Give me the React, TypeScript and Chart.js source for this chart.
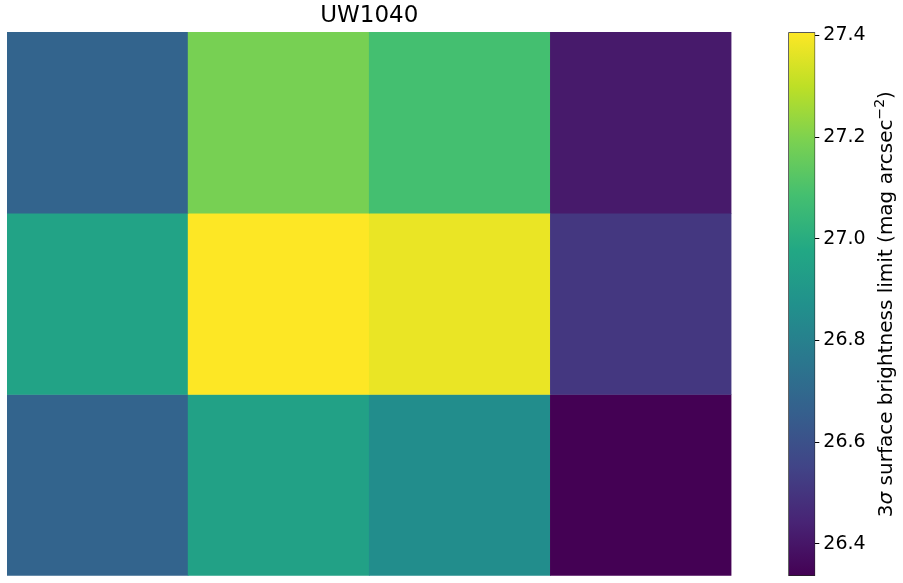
import React, { useEffect, useRef } from 'react';
import { Chart, registerables } from 'chart.js';

Chart.register(...registerables);

// ---- data ----
const columns = ['col1', 'col2', 'col3', 'col4'];
const rowNames = ['top', 'middle', 'bottom'];
const topRow = [26.68, 27.187, 27.085, 26.413];
const middleRow = [26.955, 27.406, 27.374, 26.508];
const bottomRow = [26.68, 26.946, 26.854, 26.337];
const cellRows = [topRow, middleRow, bottomRow];
const colorbarTicks = [26.4, 26.6, 26.8, 27.0, 27.2, 27.4];
const titleText = 'UW1040';
// colorbar label pieces: [text, style]
const colorbarLabelParts: [string, string][] = [
  ['3', 'normal'],
  ['σ', 'italic'],
  [' surface brightness limit (mag arcsec', 'normal'],
  ['−2', 'sup'],
  [')', 'normal'],
];

// viridis colormap anchors (0 .. 1 in steps of 0.1)
const viridisStops = [
  '#440154', '#482475', '#414487', '#355f8d', '#2a788e',
  '#21918c', '#22a884', '#44bf70', '#7ad151', '#bddf26', '#fde725',
];

const allValues = [...topRow, ...middleRow, ...bottomRow];
const vmin = Math.min(...allValues);
const vmax = Math.max(...allValues);

function hexToRgb(h: string) {
  const n = parseInt(h.slice(1), 16);
  return [(n >> 16) & 255, (n >> 8) & 255, n & 255];
}

function viridis(t: number) {
  const tt = Math.max(0, Math.min(1, t));
  const pos = tt * (viridisStops.length - 1);
  const i = Math.min(Math.floor(pos), viridisStops.length - 2);
  const f = pos - i;
  const a = hexToRgb(viridisStops[i]);
  const b = hexToRgb(viridisStops[i + 1]);
  const c = a.map((v, k) => Math.round(v + (b[k] - v) * f));
  return `rgb(${c[0]},${c[1]},${c[2]})`;
}

const FONT = 'DejaVu Sans';
const LABEL_SIZE = 20;

export default function App() {
  const heatRef = useRef<HTMLCanvasElement>(null);
  const barRef = useRef<HTMLCanvasElement>(null);

  useEffect(() => {
    const nRows = cellRows.length;
    const heat = new Chart(heatRef.current!, {
      type: 'bar',
      data: {
        labels: columns,
        datasets: cellRows.map((vals, r) => ({
          label: rowNames[r],
          data: vals.map(() => [nRows - 1 - r, nRows - r]) as any,
          backgroundColor: vals.map((v) => viridis((v - vmin) / (vmax - vmin))),
          borderWidth: 0,
          grouped: false,
          categoryPercentage: 1,
          barPercentage: 1,
        })),
      },
      options: {
        animation: false,
        responsive: false,
        layout: { padding: { left: 7, right: 8.5, top: 0, bottom: 7.3 } },
        scales: {
          x: { type: 'category', display: false },
          y: { type: 'linear', min: 0, max: nRows, display: false },
        },
        plugins: {
          legend: { display: false },
          tooltip: { enabled: false },
          title: {
            display: true,
            text: titleText,
            color: '#000',
            font: { family: FONT, size: 23, weight: 'normal' },
            padding: { top: 2.5, bottom: 1.9 },
          },
        },
      },
    });

    const fontFor = (style: string) => {
      if (style === 'italic') return `italic ${LABEL_SIZE}px "${FONT}"`;
      if (style === 'sup') return `${Math.round(LABEL_SIZE * 0.7)}px "${FONT}"`;
      return `${LABEL_SIZE}px "${FONT}"`;
    };

    const labelPlugin = {
      id: 'cbLabel',
      afterDraw(chart: any) {
        const { ctx, chartArea } = chart;
        ctx.save();
        ctx.translate(145, (chartArea.top + chartArea.bottom) / 2);
        ctx.rotate(-Math.PI / 2);
        ctx.fillStyle = '#000';
        ctx.textAlign = 'left';
        ctx.textBaseline = 'alphabetic';
        let total = 0;
        const widths = colorbarLabelParts.map(([t, s]) => {
          ctx.font = fontFor(s);
          const w = ctx.measureText(t).width;
          total += w;
          return w;
        });
        let x = -total / 2;
        const baseY = LABEL_SIZE * 0.36;
        colorbarLabelParts.forEach(([t, s], i) => {
          ctx.font = fontFor(s);
          const y = s === 'sup' ? baseY - LABEL_SIZE * 0.42 : baseY;
          ctx.fillText(t, x, y);
          x += widths[i];
        });
        ctx.restore();
      },
    };

    const bar = new Chart(barRef.current!, {
      type: 'bar',
      data: {
        labels: ['colorbar'],
        datasets: [
          {
            data: [[vmin, vmax]] as any,
            backgroundColor: (c: any) => {
              const area = c.chart.chartArea;
              if (!area) return 'rgba(0,0,0,0)';
              const g = c.chart.ctx.createLinearGradient(0, area.bottom, 0, area.top);
              viridisStops.forEach((col, i) => g.addColorStop(i / (viridisStops.length - 1), col));
              return g;
            },
            borderColor: '#222',
            borderWidth: 1,
            borderSkipped: false,
            categoryPercentage: 1,
            barPercentage: 1,
          },
        ],
      },
      options: {
        animation: false,
        responsive: false,
        layout: { padding: { left: 48.3, right: 0, top: 32.3, bottom: 7 } },
        scales: {
          x: { type: 'category', display: false },
          y: {
            position: 'right',
            min: vmin,
            max: vmax,
            afterBuildTicks: (s: any) => {
              s.ticks = colorbarTicks.map((v) => ({ value: v }));
            },
            afterFit: (s: any) => {
              s.width = 87.7;
              s.paddingTop = 0;
              s.paddingBottom = 0;
            },
            ticks: {
              color: '#000',
              padding: 4,
              font: { family: FONT, size: 19 },
              callback: (v: any) => Number(v).toFixed(1),
            },
            grid: { drawOnChartArea: false, drawTicks: true, tickLength: 4, color: '#000' },
            border: { display: false },
          },
        },
        plugins: {
          legend: { display: false },
          tooltip: { enabled: false },
        },
      },
      plugins: [labelPlugin],
    });

    return () => {
      heat.destroy();
      bar.destroy();
    };
  }, []);

  return (
    <div style={{ position: 'fixed', left: 0, top: 0, width: 903, height: 583, background: '#fff' }}>
      <canvas ref={heatRef} width={740} height={583} style={{ position: 'absolute', left: 0, top: 0 }} />
      <canvas ref={barRef} width={163} height={583} style={{ position: 'absolute', left: 740, top: 0 }} />
    </div>
  );
}
